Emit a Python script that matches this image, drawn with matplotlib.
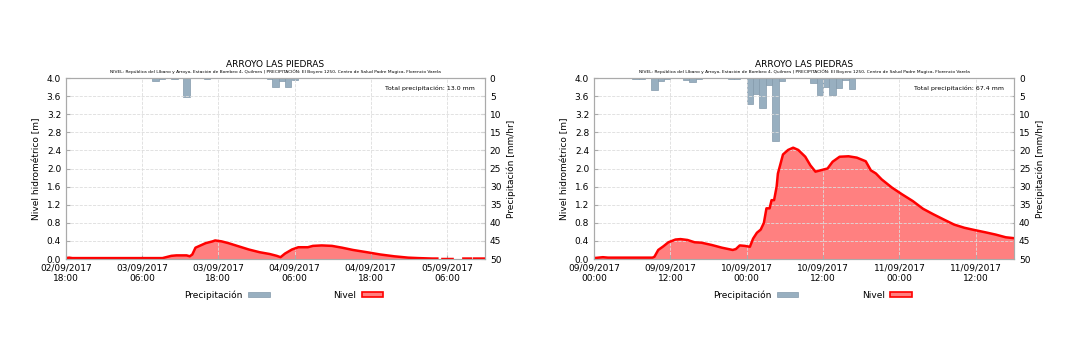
import numpy as np
import matplotlib
matplotlib.use("Agg")
import matplotlib.pyplot as plt
import matplotlib.dates as mdates
import matplotlib.patches as mpatches
from datetime import datetime, timedelta

nan = np.nan

# ---- left panel: 02/09/2017 18:00 -> 05/09/2017 12:00
left_start = datetime(2017, 9, 2, 18, 0)
left_level_h = [0, 0.5, 1.0, 2, 5, 8, 11, 14, 15.2, 16.6, 17.4, 19.0, 19.5, 19.9,
                20.4, 21.2, 22.0, 23.1, 23.5, 24.5, 25.6, 27.2, 28.8, 30.5, 32.1,
                33.2, 33.8, 34.5, 35.6, 36.6, 38.1, 38.9, 40.3, 41.9, 43.5, 45.2,
                47.4, 49.5, 51.7, 53.9, 55.5, 57.7, 58.5, 59.0, 59.3, 60.9, 61.2,
                62.6, 63.8, 64.0, 64.3, 66.0]
left_level_m = [0.02, 0.03, 0.02, 0.02, 0.02, 0.02, 0.02, 0.02, 0.02, 0.07, 0.08,
                0.08, 0.06, 0.10, 0.25, 0.30, 0.35, 0.39, 0.41, 0.39, 0.35, 0.28,
                0.21, 0.15, 0.11, 0.07, 0.04, 0.12, 0.21, 0.26, 0.26, 0.29, 0.30,
                0.29, 0.25, 0.20, 0.15, 0.10, 0.06, 0.03, 0.02, 0.01, 0.01, nan,
                0.0, 0.0, nan, 0.01, 0.01, nan, 0.01, 0.01]
left_rain_h = [13.6, 14.6, 16.6, 18.5, 21.7, 31.6, 32.5, 33.5, 34.5, 35.6]
left_rain_mm = [0.8, 0.2, 0.2, 5.2, 0.2, 0.2, 2.4, 0.8, 2.4, 0.6]
left_total = "Total precipitación: 13.0 mm"

# ---- right panel: 09/09/2017 00:00 -> 11/09/2017 18:00
right_start = datetime(2017, 9, 9, 0, 0)
right_level_h = [0, 1.4, 2.2, 5, 9.2, 9.5, 10.1, 10.9, 11.7, 12.8, 13.6, 14.7, 15.8,
                 16.9, 18.5, 20.1, 21.8, 22.3, 22.9, 23.7, 24.5, 25.0, 25.6, 26.2,
                 26.7, 27.1, 27.6, 27.9, 28.3, 28.7, 28.9, 29.7, 30.5, 31.3, 32.1,
                 33.2, 34.0, 34.8, 35.6, 36.7, 37.5, 38.6, 40.0, 41.3, 42.7, 43.5,
                 44.3, 45.2, 46.8, 48.4, 50.1, 51.7, 53.3, 55.0, 56.6, 58.2, 59.8,
                 61.5, 63.1, 64.7, 66.0]
right_level_m = [0.02, 0.04, 0.03, 0.03, 0.03, 0.05, 0.20, 0.28, 0.37, 0.43, 0.44,
                 0.42, 0.37, 0.36, 0.31, 0.25, 0.20, 0.22, 0.30, 0.29, 0.27, 0.45,
                 0.58, 0.65, 0.80, 1.12, 1.12, 1.30, 1.30, 1.60, 1.89, 2.31, 2.41,
                 2.46, 2.41, 2.26, 2.07, 1.93, 1.96, 2.00, 2.15, 2.26, 2.27, 2.24,
                 2.16, 1.96, 1.89, 1.76, 1.58, 1.43, 1.28, 1.11, 0.99, 0.87, 0.76,
                 0.69, 0.64, 0.59, 0.54, 0.48, 0.46]
right_rain_h = [6, 7, 9, 10, 11, 14, 15, 16, 21, 22, 24, 25, 26, 27, 28, 29,
                34, 35, 36, 37, 38, 39, 40]
right_rain_mm = [0.4, 0.2, 3.4, 0.9, 0.3, 0.6, 1.2, 0.2, 0.3, 0.3, 7.2, 4.3, 8.3,
                 2.0, 17.4, 0.9, 1.4, 4.6, 2.4, 4.6, 2.8, 0.6, 3.1]
right_total = "Total precipitación: 67.4 mm"

title = "ARROYO LAS PIEDRAS"
subtitle = ("NIVEL: República del Líbano y Arroyo, Estación de Bombeo 4, Quilmes | "
            "PRECIPITACIÓN: El Boyero 1250, Centro de Salud Padre Mugica, Florencio Varela")

level_ticks = np.arange(0, 4.01, 0.4)
rain_ticks = np.arange(0, 51, 5)

bar_color = "#98afc0"
fill_color = "#ff8080"
spine_color = "#aaaaaa"


def draw_panel(fig, rect, start, level_h, level_m, rain_h, rain_mm, total, hours):
    ax = fig.add_axes(rect)
    t = [start + timedelta(hours=h) for h in level_h]
    lv = np.array(level_m, dtype=float)
    ax.fill_between(t, 0, lv, color=fill_color, lw=0)
    ax.plot(t, lv, color="red", lw=1.8)
    ax.set_ylim(0, 4.0)
    ax.set_yticks(level_ticks)
    ax.set_yticklabels(["%.1f" % v for v in level_ticks])
    ax.set_xlim(start, start + timedelta(hours=66))
    ax.xaxis.set_major_locator(mdates.HourLocator(byhour=hours))
    ax.xaxis.set_major_formatter(mdates.DateFormatter("%d/%m/%Y\n%H:%M"))
    ax.grid(True, color="#dddddd", ls="--", lw=0.6)
    ax.set_ylabel("Nivel hidrométrico [m]", fontsize=6.5)
    ax.tick_params(labelsize=6.5, direction="in", color=spine_color, length=3)

    ax2 = ax.twinx()
    tb = [start + timedelta(hours=h) for h in rain_h]
    ax2.bar(tb, rain_mm, width=1 / 24.0, align="edge", color=bar_color,
            edgecolor="#8399ab", lw=0.5)
    ax2.set_ylim(50, 0)
    ax2.set_yticks(rain_ticks)
    ax2.set_ylabel("Precipitación [mm/hr]", fontsize=6.5)
    ax2.tick_params(labelsize=6.5, direction="in", color=spine_color, length=3)
    ax.set_zorder(ax2.get_zorder() + 1)
    ax.patch.set_visible(False)

    for a in (ax, ax2):
        for s in a.spines.values():
            s.set_color(spine_color)

    ax.text(0.5, 1.072, title, transform=ax.transAxes, ha="center", va="center",
            fontsize=6.5)
    ax.text(0.5, 1.033, subtitle, transform=ax.transAxes, ha="center", va="center",
            fontsize=3.2)
    ax.text(0.975, 0.945, total, transform=ax.transAxes, ha="right", va="center",
            fontsize=4.5)

    h1 = mpatches.Patch(facecolor=bar_color, edgecolor="#8399ab", lw=0.5)
    h2 = mpatches.Patch(facecolor=fill_color, edgecolor="red", lw=1.2)
    ax.legend([h1, h2], ["Precipitación", "Nivel"], ncol=2, markerfirst=False,
              frameon=False, fontsize=6.5, loc="center", bbox_to_anchor=(0.52, -0.2),
              handlelength=2.4, handleheight=0.45, columnspacing=7, handletextpad=0.6)
    return ax


def main():
    fig = plt.figure(figsize=(10.71, 3.57), dpi=100)
    draw_panel(fig, [0.0616, 0.2745, 0.3912, 0.507], left_start, left_level_h,
               left_level_m, left_rain_h, left_rain_mm, left_total, [6, 18])
    draw_panel(fig, [0.5546, 0.2745, 0.3922, 0.507], right_start, right_level_h,
               right_level_m, right_rain_h, right_rain_mm, right_total, [0, 12])
    fig.savefig("out.png", dpi=100)


if __name__ == '__main__':
    main()
